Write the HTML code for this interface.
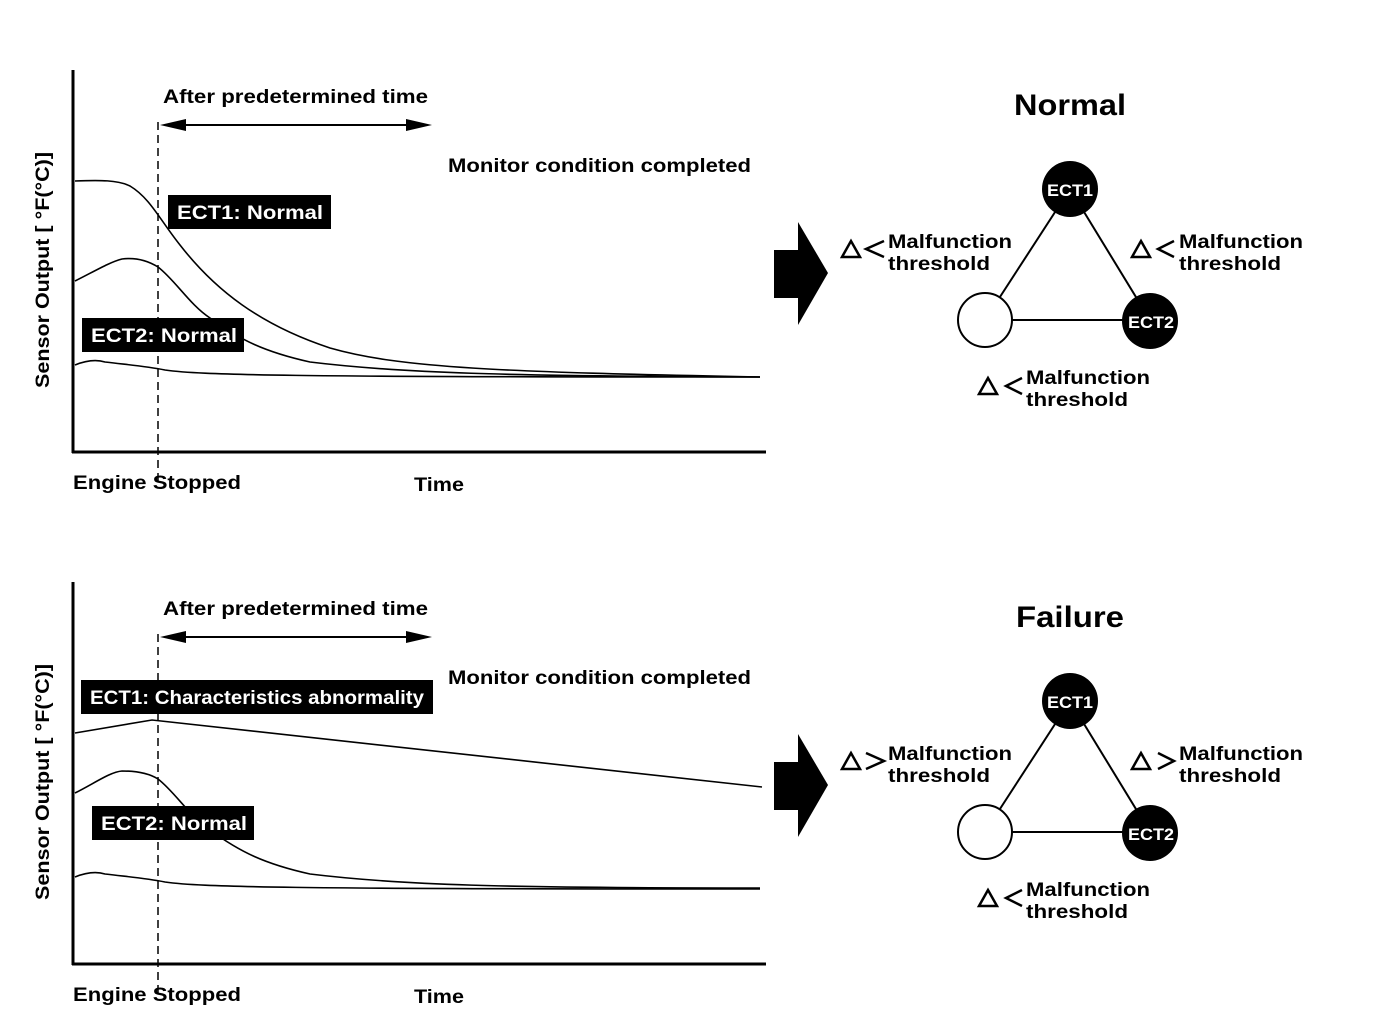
<!DOCTYPE html>
<html><head><style>
html,body{margin:0;padding:0;background:#fff;}
svg{display:block;}
text{font-family:"Liberation Sans",sans-serif;font-weight:bold;fill:#000;}
</style></head><body>
<svg width="1376" height="1024" viewBox="0 0 1376 1024" xmlns="http://www.w3.org/2000/svg">
<defs>
<g id="axes">
  <line x1="73" y1="70" x2="73" y2="453" stroke="#000" stroke-width="3"/>
  <line x1="72" y1="452" x2="766" y2="452" stroke="#000" stroke-width="3"/>
  <line x1="158" y1="122" x2="158" y2="486" stroke="#000" stroke-width="1.5" stroke-dasharray="8,5"/>
  <line x1="170" y1="125" x2="422" y2="125" stroke="#000" stroke-width="2"/>
  <polygon points="160,125 186,119 186,131" fill="#000"/>
  <polygon points="432,125 406,119 406,131" fill="#000"/>
  <text x="163" y="103" font-size="19" textLength="265" lengthAdjust="spacingAndGlyphs">After predetermined time</text>
  <text x="448" y="172" font-size="19" textLength="303" lengthAdjust="spacingAndGlyphs">Monitor condition completed</text>
  <text x="73" y="489" font-size="19" textLength="168" lengthAdjust="spacingAndGlyphs">Engine Stopped</text>
  <text x="414" y="491" font-size="19" textLength="50" lengthAdjust="spacingAndGlyphs">Time</text>
  <text transform="translate(49,270) rotate(-90)" text-anchor="middle" font-size="19" textLength="236" lengthAdjust="spacingAndGlyphs">Sensor Output [ °F(°C)]</text>
  <rect x="774" y="250" width="28" height="48" fill="#000"/>
  <polygon points="798,222 828,273 798,325" fill="#000"/>
  <line x1="1070" y1="189" x2="985" y2="320" stroke="#000" stroke-width="2"/>
  <line x1="1070" y1="189" x2="1150" y2="320" stroke="#000" stroke-width="2"/>
  <line x1="985" y1="320" x2="1150" y2="320" stroke="#000" stroke-width="2"/>
  <circle cx="1070" cy="189" r="28" fill="#000"/>
  <circle cx="985" cy="320" r="27" fill="#fff" stroke="#000" stroke-width="2"/>
  <circle cx="1150" cy="321" r="28" fill="#000"/>
  <text x="1070" y="196" font-size="17" text-anchor="middle" style="fill:#fff" textLength="46" lengthAdjust="spacingAndGlyphs">ECT1</text>
  <text x="1151" y="328" font-size="17" text-anchor="middle" style="fill:#fff" textLength="46" lengthAdjust="spacingAndGlyphs">ECT2</text>
  <polygon points="851,241 842,257 860,257" fill="none" stroke="#000" stroke-width="2.5"/>
  <polygon points="1141,241 1132,257 1150,257" fill="none" stroke="#000" stroke-width="2.5"/>
  <polygon points="988,378 979,394 997,394" fill="none" stroke="#000" stroke-width="2.5"/>
  <polyline points="1022,378 1006,386 1022,394" fill="none" stroke="#000" stroke-width="2.5"/>
  <text x="888" y="248" font-size="19" textLength="124" lengthAdjust="spacingAndGlyphs">Malfunction</text>
  <text x="888" y="270" font-size="19" textLength="102" lengthAdjust="spacingAndGlyphs">threshold</text>
  <text x="1179" y="248" font-size="19" textLength="124" lengthAdjust="spacingAndGlyphs">Malfunction</text>
  <text x="1179" y="270" font-size="19" textLength="102" lengthAdjust="spacingAndGlyphs">threshold</text>
  <text x="1026" y="384" font-size="19" textLength="124" lengthAdjust="spacingAndGlyphs">Malfunction</text>
  <text x="1026" y="406" font-size="19" textLength="102" lengthAdjust="spacingAndGlyphs">threshold</text>
</g>
</defs>

<!-- TOP -->
<use href="#axes"/>
<polyline points="884,241 866,249 884,257" fill="none" stroke="#000" stroke-width="2.5"/>
<polyline points="1174,241 1158,249 1174,257" fill="none" stroke="#000" stroke-width="2.5"/>
<text x="1070" y="115" font-size="30" text-anchor="middle" textLength="112" lengthAdjust="spacingAndGlyphs">Normal</text>
<g fill="none" stroke="#000" stroke-width="1.6">
  <path d="M75,181 C100,180 118,180 130,186 C150,198 160,220 180,245 C215,290 260,325 330,348 C400,368 500,372 760,377"/>
  <path d="M75,281 C95,271 110,262 122,259 C138,257 150,262 158,267 C175,280 190,305 210,318 C240,340 265,352 310,362 C400,373 500,376 760,377"/>
  <path d="M75,365 C85,361 95,359 105,362 C130,365 145,366 165,370 C200,375 280,377 760,377"/>
</g>
<rect x="168" y="195" width="163" height="34" fill="#000"/>
<text x="177" y="219" font-size="19" style="fill:#fff" textLength="146" lengthAdjust="spacingAndGlyphs">ECT1: Normal</text>
<rect x="82" y="318" width="162" height="34" fill="#000"/>
<text x="91" y="342" font-size="19" style="fill:#fff" textLength="146" lengthAdjust="spacingAndGlyphs">ECT2: Normal</text>

<!-- BOTTOM -->
<use href="#axes" y="512"/>
<polyline points="866,753 884,761 866,769" fill="none" stroke="#000" stroke-width="2.5"/>
<polyline points="1158,753 1174,761 1158,769" fill="none" stroke="#000" stroke-width="2.5"/>
<text x="1070" y="627" font-size="30" text-anchor="middle" textLength="108" lengthAdjust="spacingAndGlyphs">Failure</text>
<g fill="none" stroke="#000" stroke-width="1.6">
  <path d="M75,733 L152,720 L762,787"/>
  <path d="M75,793 C95,783 110,772 122,771 C138,771 150,774 158,779 C175,792 190,817 210,830 C240,852 265,864 310,874 C400,885 500,888 760,888"/>
  <path d="M75,877 C85,873 95,871 105,874 C130,877 145,878 165,882 C200,887 280,889 760,889"/>
</g>
<rect x="81" y="680" width="352" height="34" fill="#000"/>
<text x="90" y="704" font-size="19" style="fill:#fff" textLength="334" lengthAdjust="spacingAndGlyphs">ECT1: Characteristics abnormality</text>
<rect x="92" y="806" width="162" height="34" fill="#000"/>
<text x="101" y="830" font-size="19" style="fill:#fff" textLength="146" lengthAdjust="spacingAndGlyphs">ECT2: Normal</text>
</svg>
</body></html>
